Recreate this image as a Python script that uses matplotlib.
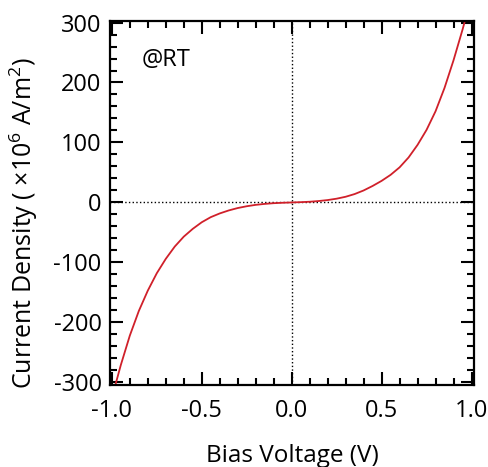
import matplotlib
matplotlib.use("Agg")
import matplotlib.pyplot as plt
from matplotlib.ticker import MultipleLocator

plt.rcParams['font.family'] = ['Open Sans', 'Noto Sans', 'DejaVu Sans']
plt.rcParams['mathtext.fontset'] = 'custom'
plt.rcParams['mathtext.rm'] = 'Open Sans'
plt.rcParams['mathtext.default'] = 'rm'
plt.rcParams['xtick.direction'] = 'in'
plt.rcParams['ytick.direction'] = 'in'
plt.rcParams['xtick.top'] = True
plt.rcParams['ytick.right'] = True
plt.rcParams['xtick.major.size'] = 9.5
plt.rcParams['ytick.major.size'] = 9.5
plt.rcParams['xtick.minor.size'] = 5
plt.rcParams['ytick.minor.size'] = 5
plt.rcParams['xtick.major.width'] = 1.5
plt.rcParams['ytick.major.width'] = 1.5
plt.rcParams['xtick.minor.width'] = 1.5
plt.rcParams['ytick.minor.width'] = 1.5

# I-V data (V, x10^6 A/m^2)
voltage = [-1.0, -0.95, -0.9, -0.85, -0.8, -0.75, -0.7, -0.65, -0.6, -0.55,
           -0.5, -0.45, -0.4, -0.35, -0.3, -0.25, -0.2, -0.15, -0.1, -0.05,
           0.0, 0.05, 0.1, 0.15, 0.2, 0.25, 0.3, 0.35, 0.4, 0.45,
           0.5, 0.55, 0.6, 0.65, 0.7, 0.75, 0.8, 0.85, 0.9, 0.95, 1.0]
current = [-326, -271, -222, -181, -147, -118, -94, -73.5, -57, -44,
           -33, -24.5, -18.3, -13.3, -9.3, -6.3, -4, -2.4, -1.2, -0.5,
           0, 0.5, 1.2, 2.4, 4, 6.3, 9.5, 14, 20, 27.5,
           36, 46, 58.5, 75, 96, 121, 152, 191, 237, 288, 343]

fig = plt.figure(figsize=(4.89, 4.67), dpi=100)
ax = fig.add_axes([0.225, 0.176, 0.744, 0.779])

ax.axhline(0, color='black', lw=1, ls=':', zorder=1)
ax.axvline(0, color='black', lw=1, ls=':', zorder=1)
ax.plot(voltage, current, color='#d0202a', lw=1.3, zorder=2)

ax.set_xlim(-1.01, 1.013)
ax.set_ylim(-304, 302.5)
ax.xaxis.set_major_locator(MultipleLocator(0.5))
ax.xaxis.set_minor_locator(MultipleLocator(0.1))
ax.yaxis.set_major_locator(MultipleLocator(100))
ax.yaxis.set_minor_locator(MultipleLocator(20))
ax.xaxis.set_major_formatter(lambda v, pos: f'{v:.1f}')
ax.yaxis.set_major_formatter(lambda v, pos: f'{v:.0f}')

ax.tick_params(which='both', labelsize=17)
ax.tick_params(axis='y', pad=6)
ax.tick_params(axis='x', pad=10)
for s in ax.spines.values():
    s.set_linewidth(1.6)

ax.set_xlabel('Bias Voltage (V)', fontsize=17.5, labelpad=15)
ax.set_ylabel('Current Density ( \u00d710$^{6}$ A/m$^{2}$)', fontsize=18)
ax.yaxis.set_label_coords(-0.192, 0.445)
ax.text(0.088, 0.893, '@RT', transform=ax.transAxes, fontsize=17, va='center')

fig.savefig('out.png', dpi=100)
